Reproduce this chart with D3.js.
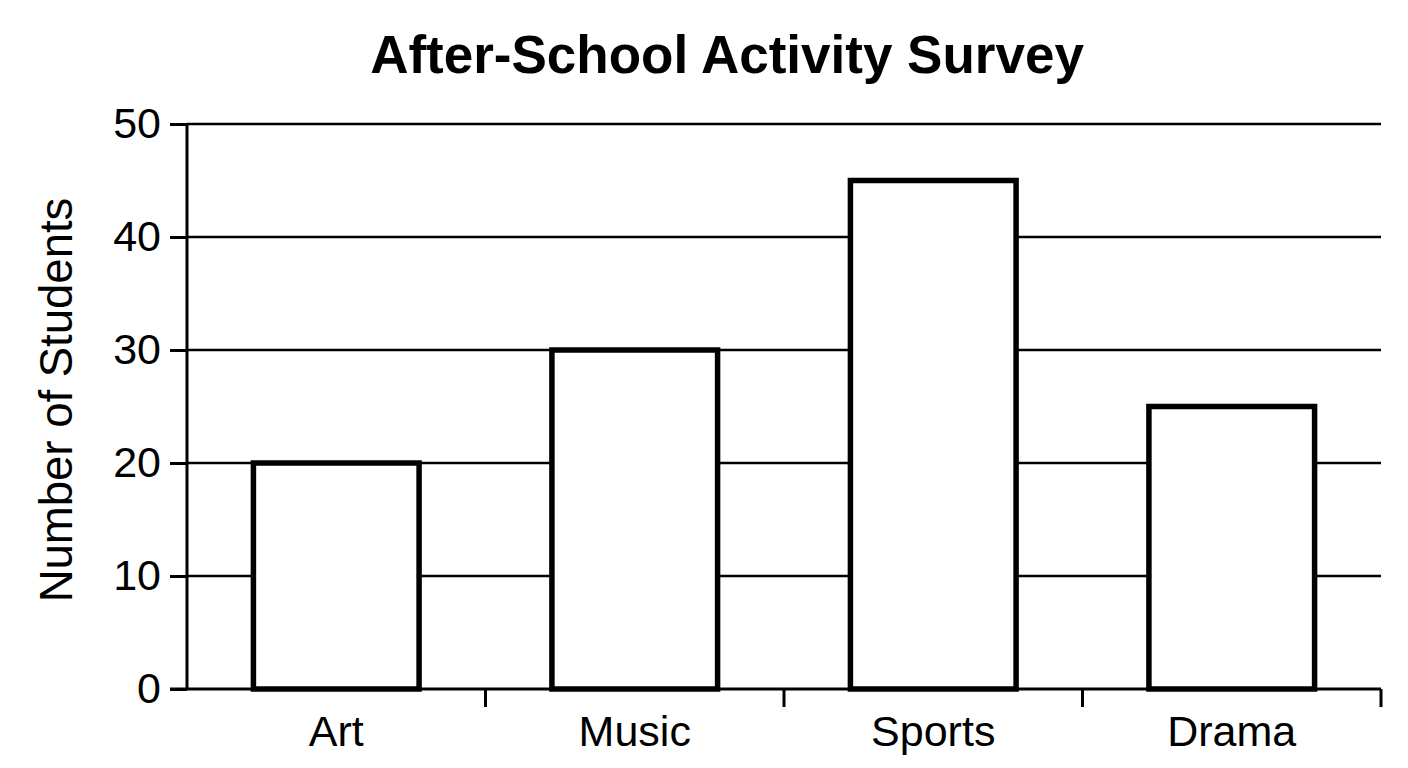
<!DOCTYPE html>
<html>
<head>
<meta charset="utf-8">
<script src="https://cdn.jsdelivr.net/npm/d3@7"></script>
<style>
  body { margin: 0; background: #fff; }
  text { font-family: "Liberation Sans", Arial, sans-serif; fill: #000; }
</style>
</head>
<body>
<div id="chart"></div>
<script>
// chart data
const categories = ["Art", "Music", "Sports", "Drama"];
const students = [20, 30, 45, 25];
const yTicks = [0, 10, 20, 30, 40, 50];

document.addEventListener('DOMContentLoaded', function() {
    const width = 1408, height = 768;
    const margin = { left: 187, right: 27, top: 124, bottom: 79 };

    const svg = d3.select("#chart").append("svg")
        .attr("width", width)
        .attr("height", height);

    const x = d3.scaleBand()
        .domain(categories)
        .range([margin.left, width - margin.right])
        .paddingInner(0.445)
        .paddingOuter(0.2225);

    const y = d3.scaleLinear()
        .domain([0, 50])
        .range([height - margin.bottom, margin.top]);

    // horizontal grid lines
    svg.append("g")
        .selectAll("line")
        .data(yTicks.filter(d => d > 0))
        .join("line")
        .attr("x1", margin.left)
        .attr("x2", width - margin.right)
        .attr("y1", d => y(d))
        .attr("y2", d => y(d))
        .attr("stroke", "#000")
        .attr("stroke-width", 2.5);

    // bars
    svg.append("g")
        .selectAll("rect")
        .data(categories)
        .join("rect")
        .attr("x", d => x(d))
        .attr("y", (d, i) => y(students[i]))
        .attr("width", x.bandwidth())
        .attr("height", (d, i) => y(0) - y(students[i]))
        .attr("fill", "#fff")
        .attr("stroke", "#000")
        .attr("stroke-width", 5.5);

    // y axis
    const yAxis = svg.append("g")
        .attr("transform", `translate(${margin.left},0)`)
        .call(d3.axisLeft(y).tickValues(yTicks).tickSize(17).tickPadding(9));
    yAxis.select(".domain").attr("stroke", "#000").attr("stroke-width", 3)
        .attr("d", `M0,${y(0)}V${y(50)}`);
    yAxis.selectAll(".tick line").attr("stroke", "#000").attr("stroke-width", 3);
    yAxis.selectAll(".tick text")
        .attr("font-size", 43)
        .attr("font-family", "Liberation Sans, Arial, sans-serif")
        .attr("fill", "#000");

    // x axis, ticks sit at the band boundaries
    const step = x.step();
    const boundaries = categories.map((d, i) => margin.left + step * (i + 1));
    const xAxis = svg.append("g");
    xAxis.append("line")
        .attr("x1", margin.left - 17)
        .attr("x2", width - margin.right)
        .attr("y1", y(0))
        .attr("y2", y(0))
        .attr("stroke", "#000")
        .attr("stroke-width", 3);
    xAxis.selectAll("line.tk")
        .data(boundaries)
        .join("line")
        .attr("class", "tk")
        .attr("x1", d => d)
        .attr("x2", d => d)
        .attr("y1", y(0))
        .attr("y2", y(0) + 18)
        .attr("stroke", "#000")
        .attr("stroke-width", 3);
    xAxis.selectAll("text")
        .data(categories)
        .join("text")
        .attr("x", d => x(d) + x.bandwidth() / 2)
        .attr("y", 746)
        .attr("text-anchor", "middle")
        .attr("font-size", 43)
        .text(d => d);

    // title
    svg.append("text")
        .attr("x", 727)
        .attr("y", 73)
        .attr("text-anchor", "middle")
        .attr("font-size", 53)
        .attr("font-weight", "bold")
        .text("After-School Activity Survey");

    // y axis label
    svg.append("text")
        .attr("transform", "translate(72,400) rotate(-90)")
        .attr("text-anchor", "middle")
        .attr("font-size", 45.5)
        .text("Number of Students");
});
</script>
</body>
</html>
